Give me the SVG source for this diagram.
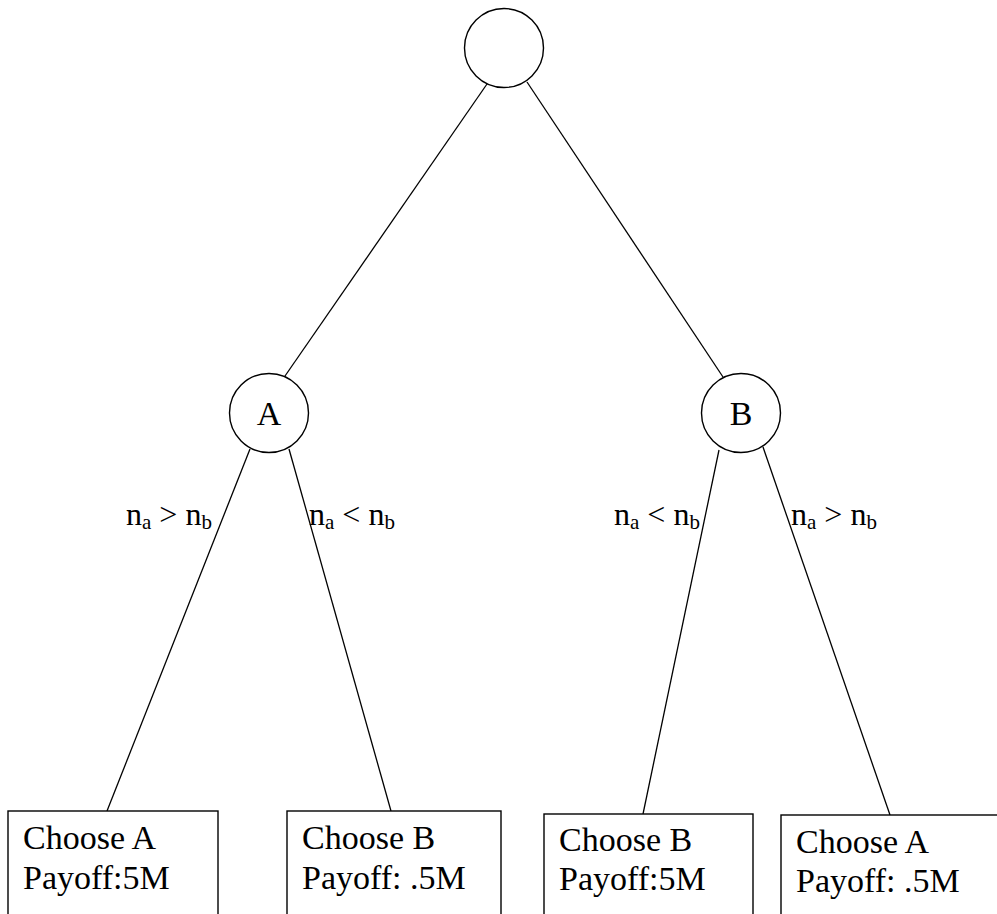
<svg xmlns="http://www.w3.org/2000/svg" width="997" height="914" viewBox="0 0 997 914">
<style>
.n{fill:#fff;stroke:#000;stroke-width:1.4}
.e{stroke:#000;stroke-width:1.3;fill:none}
text{font-family:"Liberation Serif","Times New Roman",serif;font-size:32px;fill:#000}
.b{font-size:34px}
.s{font-size:21px}
</style>
<rect width="997" height="914" fill="#fff"/>
<g id="connectors">
<line class="e" x1="487" y1="84" x2="285" y2="376"/>
<line class="e" x1="527" y1="82" x2="723" y2="377"/>
<line class="e" x1="250" y1="449" x2="107" y2="811"/>
<line class="e" x1="289" y1="449" x2="391" y2="811"/>
<line class="e" x1="719" y1="450" x2="643" y2="814"/>
<line class="e" x1="763" y1="447" x2="890" y2="815"/>
</g>
<g id="root"><circle class="n" cx="504" cy="48" r="39.5"/></g>
<g id="nodeA"><circle class="n" cx="269" cy="413" r="39.5"/><text class="b" x="269" y="425" text-anchor="middle">A</text></g>
<g id="nodeB"><circle class="n" cx="741" cy="413" r="39.5"/><text class="b" x="741" y="425" text-anchor="middle">B</text></g>
<g id="labels">
<text x="126" y="525">n<tspan class="s" dy="4">a</tspan><tspan dy="-4"> &gt; n</tspan><tspan class="s" dy="4">b</tspan></text>
<text x="309" y="525">n<tspan class="s" dy="4">a</tspan><tspan dy="-4"> &lt; n</tspan><tspan class="s" dy="4">b</tspan></text>
<text x="614" y="525">n<tspan class="s" dy="4">a</tspan><tspan dy="-4"> &lt; n</tspan><tspan class="s" dy="4">b</tspan></text>
<text x="791" y="525">n<tspan class="s" dy="4">a</tspan><tspan dy="-4"> &gt; n</tspan><tspan class="s" dy="4">b</tspan></text>
</g>
<g id="leaf1"><rect class="n" x="8" y="811" width="210" height="120"/><text class="b" x="23" y="849">Choose A</text><text class="b" x="23" y="889">Payoff:5M</text></g>
<g id="leaf2"><rect class="n" x="287" y="811" width="214" height="120"/><text class="b" x="302" y="849">Choose B</text><text class="b" x="302" y="889">Payoff: .5M</text></g>
<g id="leaf3"><rect class="n" x="544" y="814" width="209" height="120"/><text class="b" x="559" y="851">Choose B</text><text class="b" x="559" y="890">Payoff:5M</text></g>
<g id="leaf4"><rect class="n" x="781" y="815" width="230" height="120"/><text class="b" x="796" y="853">Choose A</text><text class="b" x="796" y="892">Payoff: .5M</text></g>
</svg>
